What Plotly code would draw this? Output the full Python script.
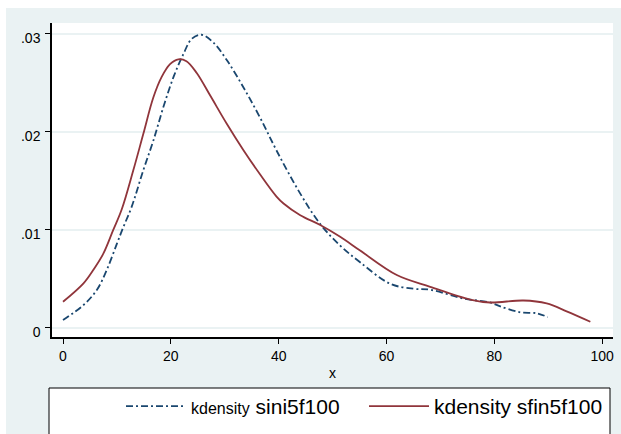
import plotly.graph_objects as go

# Data
sini_x = [0, 3.8, 6.3, 8.1, 10, 11.2, 12.7, 14.9, 16.75, 18.6, 20.5, 22.3, 23.9, 25.7, 27.9, 30.4,
          33.5, 36.5, 39.6, 44, 47.7, 51.4, 55.1, 60.7, 65, 68.1, 74.3, 79.2, 81.1, 84.8, 87.9, 89.9]
sini_y = [.00081, .00234, .0039, .0059, .0086, .0103, .0123, .0161, .0191, .0225, .0256, .0279,
          .0295, .0299, .0291, .0273, .0245, .0215, .0181, .0137, .0106, .0084, .0067, .0045,
          .0040, .0039, .0030, .0026, .0022, .0016, .0015, .0011]

sfin_x = [0, 3.8, 5.6, 7.5, 9.3, 10.9, 13.05, 14.9, 16.75, 18.3, 19.85, 21.4, 22.9, 24.8, 27.3,
          30.4, 33.5, 36.5, 39.6, 40.9, 44, 47.7, 51.4, 55.1, 61.9, 68.1, 75.5, 79.2, 85.4, 89.7,
          93.4, 97.8]
sfin_y = [.00267, .00455, .0059, .0076, .00997, .0121, .0161, .0198, .0235, .0256, .0269, .0274,
          .0272, .0260, .0237, .0208, .0181, .0157, .0134, .0127, .0115, .0105, .0093, .0079,
          .0054, .0042, .0029, .0026, .0028, .0025, .0017, .00064]

x_ticks = [0, 20, 40, 60, 80, 100]
y_ticks = [0, 0.01, 0.02, 0.03]
y_tick_labels = ["0", ".01", ".02", ".03"]

BLUE = "#1a476f"
RED = "#90353b"
BG = "#eaf2f3"
FONT = "Liberation Sans, Arial, sans-serif"

fig = go.Figure()
fig.add_trace(go.Scatter(
    x=sini_x, y=sini_y, mode="lines",
    line=dict(color=BLUE, width=1.8, dash="7px,3px,2px,3px", shape="spline", smoothing=1.0),
    name="<span style='font-size:16px'>kdensity</span> sini5f100",
))
fig.add_trace(go.Scatter(
    x=sfin_x, y=sfin_y, mode="lines",
    line=dict(color=RED, width=1.8, shape="spline", smoothing=1.0),
    name="kdensity sfin5f100",
))

W, H = 621, 434
L, R, T, B = 52, 8, 23, 97
pw, ph = W - L - R, H - T - B

def px_x(p):
    return (p - L) / pw

def px_y(p):
    return (H - B - p) / ph

shapes = [
    # white outer strips (top and left)
    dict(type="rect", xref="paper", yref="paper", x0=px_x(-5), x1=px_x(W + 5),
         y0=px_y(8), y1=px_y(-5), fillcolor="white", line=dict(width=0), layer="below"),
    dict(type="rect", xref="paper", yref="paper", x0=px_x(-5), x1=px_x(6),
         y0=px_y(H + 5), y1=px_y(-5), fillcolor="white", line=dict(width=0), layer="below"),
    # legend box
    dict(type="rect", xref="paper", yref="paper", x0=px_x(49), x1=px_x(610),
         y0=px_y(H + 20), y1=px_y(388), fillcolor="white",
         line=dict(color="black", width=1), layer="below"),
]

fig.update_layout(
    width=W, height=H,
    margin=dict(l=L, r=R, t=T, b=B, pad=0, autoexpand=False),
    paper_bgcolor=BG, plot_bgcolor="white",
    font=dict(family=FONT, color="black", size=14),
    shapes=shapes,
    showlegend=True,
    legend=dict(
        orientation="h", x=px_x(121), xanchor="left", y=px_y(386), yanchor="top",
        bgcolor="rgba(0,0,0,0)", font=dict(size=21, family=FONT),
        itemwidth=60, entrywidth=168, traceorder="normal",
    ),
    xaxis=dict(
        range=[-2.04, 102.0], tickvals=x_ticks, ticks="outside", ticklen=5,
        tickcolor="black", showline=True, linecolor="black", linewidth=1.5,
        showgrid=False, zeroline=False, tickfont=dict(size=14),
        title=dict(text="x", font=dict(size=14), standoff=6),
    ),
    yaxis=dict(
        range=[-0.00092, 0.0311], tickvals=y_ticks, ticktext=y_tick_labels,
        ticks="outside", ticklen=5, tickcolor="black", showline=True,
        linecolor="black", linewidth=1.5, showgrid=True, gridcolor=BG, gridwidth=2,
        zeroline=False, tickfont=dict(size=14), ticklabelshift=4, ticklabelstandoff=2,
    ),
)

fig.write_html("out.html")
